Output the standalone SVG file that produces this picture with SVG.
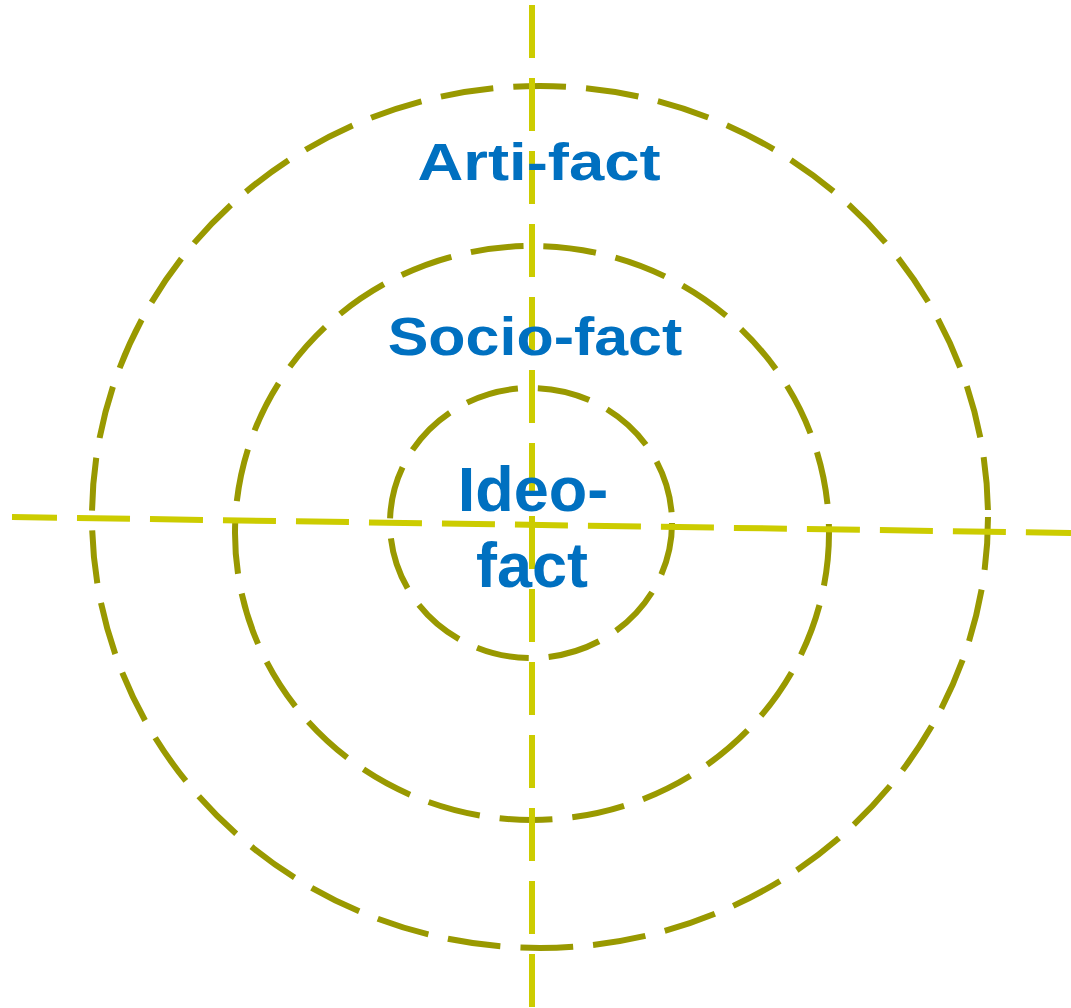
<svg xmlns="http://www.w3.org/2000/svg" width="1071" height="1008" viewBox="0 0 1071 1008">
<style>
.ring{fill:none;stroke:#999900;stroke-width:6;stroke-dasharray:53 20}
.axis{fill:none;stroke:#cccc00;stroke-width:6;stroke-dasharray:53 20}
.lbl{font-family:"Liberation Sans",Arial,sans-serif;font-weight:bold;fill:#0070c0;text-anchor:middle}
</style>
<rect width="1071" height="1008" fill="#ffffff"/>
<g id="rings">
<g id="outer"><ellipse class="ring" cx="540" cy="517" rx="448" ry="431"/></g>
<g id="middle"><ellipse class="ring" cx="532" cy="533" rx="297" ry="287"/></g>
<g id="inner"><ellipse class="ring" cx="531" cy="523" rx="141" ry="135"/></g>
</g>
<g id="connectors">
<line class="axis" x1="532" y1="5" x2="532" y2="1008"/>
<line class="axis" x1="12" y1="517" x2="1071" y2="533" stroke-dashoffset="8"/>
</g>
<g id="artifact"><text class="lbl" transform="translate(539,180) scale(1.22,1)" x="0" y="0" font-size="52">Arti-fact</text></g>
<g id="sociofact"><text class="lbl" transform="translate(535,355) scale(1.15,1)" x="0" y="0" font-size="53">Socio-fact</text></g>
<g id="ideofact"><text class="lbl" x="533" y="511" font-size="63">Ideo-</text><text class="lbl" x="532" y="587" font-size="63">fact</text></g>
</svg>
